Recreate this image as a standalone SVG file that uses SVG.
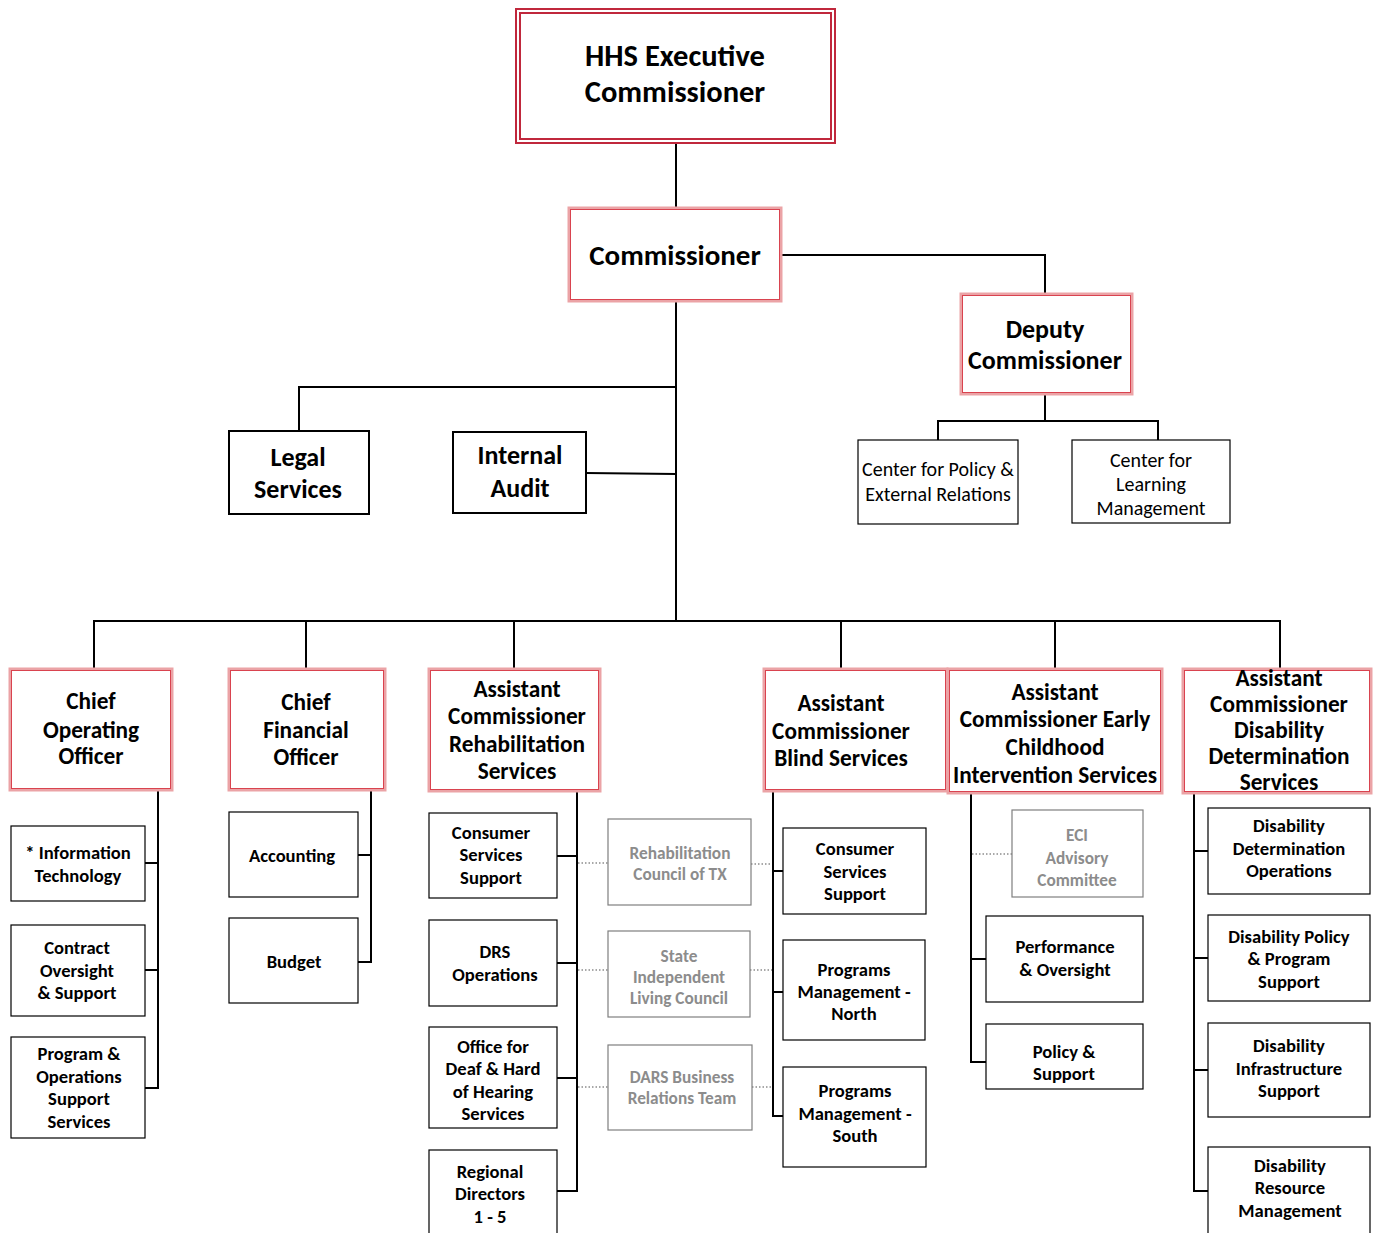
<svg xmlns="http://www.w3.org/2000/svg" width="1376" height="1233" viewBox="0 0 1376 1233">
  <style>
    text { font-family: Carlito, Lato, "Open Sans", sans-serif; text-anchor: middle; fill: #000; }
    .b { font-weight: bold; }
    .t30 { font-size: 30.5px; }
    .t29 { font-size: 29px; }
    .t26 { font-size: 26px; }
    .t23 { font-size: 23.3px; }
    .t20 { font-size: 20px; font-weight: normal; }
    .t18 { font-size: 18.6px; font-weight: bold; }
    .t17g { font-size: 17.3px; font-weight: bold; fill: #8c8c8c; }
    .box { fill: #fff; stroke: #000; stroke-width: 1.2; }
    .boxk { fill: #fff; stroke: #000; stroke-width: 2; }
    .gbox { fill: #fff; stroke: #7f7f7f; stroke-width: 1.2; }
    .red-o { fill: #fff; stroke: #eba3a6; stroke-width: 3; }
    .red-i { fill: none; stroke: #d9434f; stroke-width: 1; }
    .hhs { fill: none; stroke: #c0283c; stroke-width: 2; }
    .ln { fill: none; stroke: #000; stroke-width: 2; }
    .dot { fill: none; stroke: #8c8c8c; stroke-width: 1.5; stroke-dasharray: 1.5 2; }
  </style>

  <!-- reporting lines -->
  <g id="connectors">
    <path class="ln" d="M676 143 V208"/>
    <path class="ln" d="M781 255 H1045 V294"/>
    <path class="ln" d="M1045 394 V421 M938 440 V421 H1158 V440"/>
    <path class="ln" d="M676 301 V621"/>
    <path class="ln" d="M676 387 H299 V431"/>
    <path class="ln" d="M586 473 L676 474"/>
    <path class="ln" d="M94 669 V621 H1280 V669 M306 621 V669 M514 621 V669 M841 621 V669 M1055 621 V669"/>
    <!-- COO -->
    <path class="ln" d="M158 790 V1088 H145 M145 863 H158 M145 970 H158"/>
    <!-- CFO -->
    <path class="ln" d="M371 790 V962 H358 M358 855 H371"/>
    <!-- Rehabilitation -->
    <path class="ln" d="M577 791 V1191 H557 M557 856 H577 M557 963 H577 M557 1078 H577"/>
    <!-- Blind -->
    <path class="ln" d="M773 791 V1116 H783 M773 871 H783 M773 992 H783"/>
    <!-- ECI -->
    <path class="ln" d="M971 793 V1062 H986 M971 959 H986"/>
    <!-- DDS -->
    <path class="ln" d="M1194 793 V1191 H1208 M1194 851 H1208 M1194 958 H1208 M1194 1070 H1208"/>
    <!-- advisory links -->
    <path class="dot" d="M578 863 H608 M751 864 H772"/>
    <path class="dot" d="M578 970 H608 M750 970 H772"/>
    <path class="dot" d="M578 1087 H608 M752 1087 H772"/>
    <path class="dot" d="M972 854 H1012"/>
  </g>

  <g id="hhs-executive-commissioner">
    <rect x="516" y="9" width="319" height="134" fill="#fff" class="hhs"/>
    <rect x="520" y="13" width="311" height="126" class="hhs"/>
    <text class="b t30" x="675" y="66">HHS Executive</text>
    <text class="b t30" x="675" y="102">Commissioner</text>
  </g>

  <g id="commissioner">
    <rect x="569" y="208" width="212" height="93" class="red-o"/>
    <rect x="570.5" y="209.5" width="209" height="90" class="red-i"/>
    <text class="b t29" x="675" y="265">Commissioner</text>
  </g>

  <g id="deputy-commissioner">
    <rect x="961" y="294" width="171" height="100" class="red-o"/>
    <rect x="962.5" y="295.5" width="168" height="97" class="red-i"/>
    <text class="b t26" x="1045" y="338">Deputy</text>
    <text class="b t26" x="1045" y="369">Commissioner</text>
  </g>

  <g id="center-policy">
    <rect x="858" y="440" width="160" height="84" class="box"/>
    <text class="t20" x="938" y="476">Center for Policy &amp;</text>
    <text class="t20" x="938" y="501">External Relations</text>
  </g>

  <g id="center-learning">
    <rect x="1072" y="440" width="158" height="83" class="box"/>
    <text class="t20" x="1151" y="467">Center for</text>
    <text class="t20" x="1151" y="491">Learning</text>
    <text class="t20" x="1151" y="515">Management</text>
  </g>

  <g id="legal-services">
    <rect x="229" y="431" width="140" height="83" class="boxk"/>
    <text class="b t26" x="298" y="466">Legal</text>
    <text class="b t26" x="298" y="498">Services</text>
  </g>

  <g id="internal-audit">
    <rect x="453" y="432" width="133" height="81" class="boxk"/>
    <text class="b t26" x="520" y="464">Internal</text>
    <text class="b t26" x="520" y="497">Audit</text>
  </g>

  <!-- second tier -->
  <g id="coo">
    <rect x="10" y="669" width="162" height="121" class="red-o"/>
    <rect x="11.5" y="670.5" width="159" height="118" class="red-i"/>
    <text class="b t23" x="91" y="709">Chief</text>
    <text class="b t23" x="91" y="738">Operating</text>
    <text class="b t23" x="91" y="764">Officer</text>
  </g>

  <g id="cfo">
    <rect x="229" y="669" width="156" height="121" class="red-o"/>
    <rect x="230.5" y="670.5" width="153" height="118" class="red-i"/>
    <text class="b t23" x="306" y="710">Chief</text>
    <text class="b t23" x="306" y="738">Financial</text>
    <text class="b t23" x="306" y="765">Officer</text>
  </g>

  <g id="ac-rehabilitation">
    <rect x="429" y="669" width="171" height="122" class="red-o"/>
    <rect x="430.5" y="670.5" width="168" height="119" class="red-i"/>
    <text class="b t23" x="517" y="697">Assistant</text>
    <text class="b t23" x="517" y="724">Commissioner</text>
    <text class="b t23" x="517" y="752">Rehabilitation</text>
    <text class="b t23" x="517" y="779">Services</text>
  </g>

  <g id="ac-blind">
    <rect x="764" y="669" width="183" height="122" class="red-o"/>
    <rect x="765.5" y="670.5" width="180" height="119" class="red-i"/>
    <text class="b t23" x="841" y="711">Assistant</text>
    <text class="b t23" x="841" y="739">Commissioner</text>
    <text class="b t23" x="841" y="766">Blind Services</text>
  </g>

  <g id="ac-eci">
    <rect x="948" y="669" width="214" height="124" class="red-o"/>
    <rect x="949.5" y="670.5" width="211" height="121" class="red-i"/>
    <text class="b t23" x="1055" y="700">Assistant</text>
    <text class="b t23" x="1055" y="727">Commissioner Early</text>
    <text class="b t23" x="1055" y="755">Childhood</text>
    <text class="b t23" x="1055" y="783">Intervention Services</text>
  </g>

  <g id="ac-dds">
    <rect x="1183" y="669" width="188" height="124" class="red-o"/>
    <rect x="1184.5" y="670.5" width="185" height="121" class="red-i"/>
    <text class="b t23" x="1279" y="686">Assistant</text>
    <text class="b t23" x="1279" y="712">Commissioner</text>
    <text class="b t23" x="1279" y="738">Disability</text>
    <text class="b t23" x="1279" y="764">Determination</text>
    <text class="b t23" x="1279" y="790">Services</text>
  </g>

  <!-- COO units -->
  <g id="information-technology">
    <rect x="11" y="826" width="134" height="75" class="box"/>
    <text class="t18" x="78" y="859">* Information</text>
    <text class="t18" x="78" y="882">Technology</text>
  </g>
  <g id="contract-oversight">
    <rect x="11" y="925" width="134" height="91" class="box"/>
    <text class="t18" x="77" y="954">Contract</text>
    <text class="t18" x="77" y="977">Oversight</text>
    <text class="t18" x="77" y="999">&amp; Support</text>
  </g>
  <g id="program-operations">
    <rect x="11" y="1037" width="134" height="101" class="box"/>
    <text class="t18" x="79" y="1060">Program &amp;</text>
    <text class="t18" x="79" y="1083">Operations</text>
    <text class="t18" x="79" y="1105">Support</text>
    <text class="t18" x="79" y="1128">Services</text>
  </g>

  <!-- CFO units -->
  <g id="accounting">
    <rect x="229" y="812" width="129" height="85" class="box"/>
    <text class="t18" x="292" y="862">Accounting</text>
  </g>
  <g id="budget">
    <rect x="229" y="918" width="129" height="85" class="box"/>
    <text class="t18" x="294" y="968">Budget</text>
  </g>

  <!-- Rehabilitation units -->
  <g id="rs-consumer-services">
    <rect x="429" y="813" width="128" height="85" class="box"/>
    <text class="t18" x="491" y="839">Consumer</text>
    <text class="t18" x="491" y="861">Services</text>
    <text class="t18" x="491" y="884">Support</text>
  </g>
  <g id="drs-operations">
    <rect x="429" y="920" width="128" height="86" class="box"/>
    <text class="t18" x="495" y="958">DRS</text>
    <text class="t18" x="495" y="981">Operations</text>
  </g>
  <g id="deaf-hard-of-hearing">
    <rect x="429" y="1027" width="128" height="101" class="box"/>
    <text class="t18" x="493" y="1053">Office for</text>
    <text class="t18" x="493" y="1075">Deaf &amp; Hard</text>
    <text class="t18" x="493" y="1098">of Hearing</text>
    <text class="t18" x="493" y="1120">Services</text>
  </g>
  <g id="regional-directors">
    <rect x="429" y="1150" width="128" height="90" class="box"/>
    <text class="t18" x="490" y="1178">Regional</text>
    <text class="t18" x="490" y="1200">Directors</text>
    <text class="t18" x="490" y="1223">1 - 5</text>
  </g>

  <!-- advisory bodies -->
  <g id="rehab-council">
    <rect x="608" y="819" width="143" height="86" class="gbox"/>
    <text class="t17g" x="680" y="859">Rehabilitation</text>
    <text class="t17g" x="680" y="880">Council of TX</text>
  </g>
  <g id="sil-council">
    <rect x="608" y="931" width="142" height="86" class="gbox"/>
    <text class="t17g" x="679" y="962">State</text>
    <text class="t17g" x="679" y="983">Independent</text>
    <text class="t17g" x="679" y="1004">Living Council</text>
  </g>
  <g id="dars-business-relations">
    <rect x="608" y="1045" width="144" height="85" class="gbox"/>
    <text class="t17g" x="682" y="1083">DARS Business</text>
    <text class="t17g" x="682" y="1104">Relations Team</text>
  </g>

  <!-- Blind Services units -->
  <g id="bs-consumer-services">
    <rect x="783" y="828" width="143" height="86" class="box"/>
    <text class="t18" x="855" y="855">Consumer</text>
    <text class="t18" x="855" y="878">Services</text>
    <text class="t18" x="855" y="900">Support</text>
  </g>
  <g id="programs-north">
    <rect x="783" y="940" width="142" height="100" class="box"/>
    <text class="t18" x="854" y="976">Programs</text>
    <text class="t18" x="854" y="998">Management -</text>
    <text class="t18" x="854" y="1020">North</text>
  </g>
  <g id="programs-south">
    <rect x="783" y="1067" width="143" height="100" class="box"/>
    <text class="t18" x="855" y="1097">Programs</text>
    <text class="t18" x="855" y="1120">Management -</text>
    <text class="t18" x="855" y="1142">South</text>
  </g>

  <!-- ECI units -->
  <g id="eci-advisory">
    <rect x="1012" y="810" width="131" height="87" class="gbox"/>
    <text class="t17g" x="1077" y="841">ECI</text>
    <text class="t17g" x="1077" y="864">Advisory</text>
    <text class="t17g" x="1077" y="886">Committee</text>
  </g>
  <g id="performance-oversight">
    <rect x="986" y="916" width="157" height="86" class="box"/>
    <text class="t18" x="1065" y="953">Performance</text>
    <text class="t18" x="1065" y="976">&amp; Oversight</text>
  </g>
  <g id="policy-support">
    <rect x="986" y="1024" width="157" height="65" class="box"/>
    <text class="t18" x="1064" y="1058">Policy &amp;</text>
    <text class="t18" x="1064" y="1080">Support</text>
  </g>

  <!-- DDS units -->
  <g id="dd-operations">
    <rect x="1208" y="808" width="162" height="86" class="box"/>
    <text class="t18" x="1289" y="832">Disability</text>
    <text class="t18" x="1289" y="855">Determination</text>
    <text class="t18" x="1289" y="877">Operations</text>
  </g>
  <g id="dd-policy-program">
    <rect x="1208" y="915" width="162" height="86" class="box"/>
    <text class="t18" x="1289" y="943">Disability Policy</text>
    <text class="t18" x="1289" y="965">&amp; Program</text>
    <text class="t18" x="1289" y="988">Support</text>
  </g>
  <g id="dd-infrastructure">
    <rect x="1208" y="1023" width="162" height="94" class="box"/>
    <text class="t18" x="1289" y="1052">Disability</text>
    <text class="t18" x="1289" y="1075">Infrastructure</text>
    <text class="t18" x="1289" y="1097">Support</text>
  </g>
  <g id="dd-resource-management">
    <rect x="1208" y="1147" width="162" height="93" class="box"/>
    <text class="t18" x="1290" y="1172">Disability</text>
    <text class="t18" x="1290" y="1194">Resource</text>
    <text class="t18" x="1290" y="1217">Management</text>
  </g>
</svg>
